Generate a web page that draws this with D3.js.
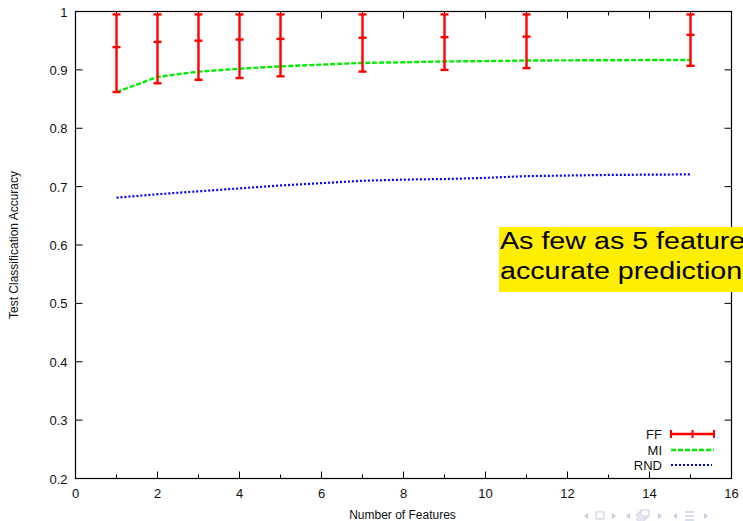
<!DOCTYPE html>
<html><head><meta charset="utf-8">
<script src="https://cdn.jsdelivr.net/npm/d3@7"></script>
<style>body{margin:0;background:#fff;overflow:hidden}svg{display:block}</style>
</head><body>
<script>
const ffX = [1, 2, 3, 4, 5, 7, 9, 11, 15];
const ffMean = [0.939, 0.948, 0.950, 0.952, 0.953, 0.955, 0.956, 0.957, 0.960];
const ffLow = [0.862, 0.877, 0.883, 0.886, 0.889, 0.897, 0.900, 0.903, 0.907];
const ffHigh = [0.995, 0.995, 0.995, 0.995, 0.995, 0.995, 0.995, 0.995, 0.995];
const miX = [1, 2, 3, 4, 5, 6, 7, 8, 9, 10, 11, 12, 13, 14, 15];
const miY = [0.862, 0.888, 0.897, 0.902, 0.906, 0.909, 0.912, 0.913, 0.9145, 0.915, 0.916, 0.9163, 0.9165, 0.9168, 0.917];
const rndX = [1, 2, 3, 4, 5, 6, 7, 8, 9, 10, 11, 12, 13, 14, 15];
const rndY = [0.681, 0.687, 0.692, 0.697, 0.702, 0.706, 0.710, 0.712, 0.713, 0.715, 0.718, 0.719, 0.720, 0.7205, 0.721];
const xTicks = [0, 2, 4, 6, 8, 10, 12, 14, 16];
const xMinor = [1, 3, 5, 7, 9, 11, 13, 15];
const yTicks = [0.2, 0.3, 0.4, 0.5, 0.6, 0.7, 0.8, 0.9, 1];
const legendLabels = ["FF", "MI", "RND"];
const noteLines = ["As few as 5 feature", "accurate prediction"];

const W = 743, H = 521;
const L = 75.5, R = 731.5, T = 11.5, B = 478.5;
const svg = d3.select("body").append("svg").attr("width", W).attr("height", H);
const x = d3.scaleLinear().domain([0, 16]).range([L, R]);
const y = d3.scaleLinear().domain([0.2, 1]).range([B, T]);
const font = "'Liberation Sans', Arial, Helvetica, sans-serif";

// ticks on all sides
const tk = svg.append("g").attr("stroke", "#000").attr("stroke-width", 1);
xTicks.forEach(v => {
  tk.append("line").attr("x1", x(v)).attr("x2", x(v)).attr("y1", B).attr("y2", B - 7);
  tk.append("line").attr("x1", x(v)).attr("x2", x(v)).attr("y1", T).attr("y2", T + 7);
});
xMinor.forEach(v => {
  tk.append("line").attr("x1", x(v)).attr("x2", x(v)).attr("y1", B).attr("y2", B - 4);
  tk.append("line").attr("x1", x(v)).attr("x2", x(v)).attr("y1", T).attr("y2", T + 4);
});
yTicks.forEach(v => {
  tk.append("line").attr("x1", L).attr("x2", L + 7).attr("y1", y(v)).attr("y2", y(v));
  tk.append("line").attr("x1", R).attr("x2", R - 7).attr("y1", y(v)).attr("y2", y(v));
});
svg.append("rect").attr("x", L).attr("y", T).attr("width", R - L).attr("height", B - T)
  .attr("fill", "none").attr("stroke", "#000").attr("stroke-width", 1.2);

// tick labels
svg.append("g").selectAll("text").data(xTicks).join("text")
  .attr("x", d => x(d)).attr("y", B + 19).attr("text-anchor", "middle")
  .attr("font-family", font).attr("font-size", 13).attr("fill", "#111").text(d => d);
svg.append("g").selectAll("text").data(yTicks).join("text")
  .attr("x", L - 8).attr("y", d => y(d) + 5).attr("text-anchor", "end")
  .attr("font-family", font).attr("font-size", 13).attr("fill", "#111").text(d => d);

svg.append("text").attr("x", (L + R) / 2 - 1).attr("y", 519).attr("text-anchor", "middle")
  .attr("font-family", font).attr("font-size", 12).attr("fill", "#111").text("Number of Features");
svg.append("text").attr("transform", `translate(18,${(T + B) / 2}) rotate(-90)`).attr("text-anchor", "middle")
  .attr("font-family", font).attr("font-size", 12).attr("fill", "#111").text("Test Classification Accuracy");

// lines
const line = d3.line().x(d => x(d[0])).y(d => y(d[1]));
svg.append("path").datum(rndX.map((v, i) => [v, rndY[i]])).attr("d", line)
  .attr("fill", "none").attr("stroke", "#0000ff").attr("stroke-width", 2.2).attr("stroke-dasharray", "2,2");
svg.append("path").datum(miX.map((v, i) => [v, miY[i]])).attr("d", line)
  .attr("fill", "none").attr("stroke", "#00ee00").attr("stroke-width", 2.4).attr("stroke-dasharray", "5,2");

// error bars
const eb = svg.append("g").attr("stroke", "#ff0000").attr("stroke-width", 2.4);
ffX.forEach((v, i) => {
  const cx = x(v);
  eb.append("line").attr("x1", cx).attr("x2", cx).attr("y1", y(ffLow[i])).attr("y2", y(ffHigh[i]));
  [ffLow[i], ffHigh[i], ffMean[i]].forEach(val => {
    eb.append("line").attr("x1", cx - 4).attr("x2", cx + 4).attr("y1", y(val)).attr("y2", y(val));
  });
});

// legend
const lg = svg.append("g");
const ly = [434, 450, 465];
legendLabels.forEach((t, i) => {
  lg.append("text").attr("x", 662).attr("y", ly[i] + 4.5).attr("text-anchor", "end")
    .attr("font-family", font).attr("font-size", 13).attr("fill", "#111").text(t);
});
lg.append("line").attr("x1", 671).attr("x2", 714).attr("y1", ly[0]).attr("y2", ly[0]).attr("stroke", "#ff0000").attr("stroke-width", 2.4);
[671, 692.5, 714].forEach(px => lg.append("line").attr("x1", px).attr("x2", px).attr("y1", ly[0] - 4).attr("y2", ly[0] + 4).attr("stroke", "#ff0000").attr("stroke-width", 2));
lg.append("line").attr("x1", 671).attr("x2", 714).attr("y1", ly[1]).attr("y2", ly[1]).attr("stroke", "#00ee00").attr("stroke-width", 2.4).attr("stroke-dasharray", "5,2");
lg.append("line").attr("x1", 671).attr("x2", 712).attr("y1", ly[2]).attr("y2", ly[2]).attr("stroke", "#0000ff").attr("stroke-width", 2.2).attr("stroke-dasharray", "2,2");

// annotation box
svg.append("rect").attr("x", 499).attr("y", 227).attr("width", 260).attr("height", 65).attr("fill", "#ffee00");
noteLines.forEach((t, i) => {
  svg.append("text").attr("transform", `translate(500,${249 + i * 30}) scale(1.17,1)`)
    .attr("font-family", font).attr("font-size", 24.5).attr("fill", "#000").text(t);
});

// beamer navigation symbols
const nav = svg.append("g").attr("fill", "#c5cbe0").attr("stroke", "#c5cbe0");
const ny = 516;
function tri(cx, dir) {
  nav.append("path").attr("d", dir < 0 ? `M${cx + 2},${ny - 3}L${cx - 2},${ny}L${cx + 2},${ny + 3}Z` : `M${cx - 2},${ny - 3}L${cx + 2},${ny}L${cx - 2},${ny + 3}Z`).attr("stroke", "none");
}
tri(586, -1);
nav.append("rect").attr("x", 596).attr("y", ny - 4).attr("width", 8).attr("height", 7).attr("fill", "none").attr("stroke-width", 1);
tri(614, 1);
tri(628, -1);
nav.append("rect").attr("x", 637).attr("y", ny - 2).attr("width", 8).attr("height", 6).attr("fill", "#fff").attr("stroke-width", 1);
nav.append("rect").attr("x", 639).attr("y", ny - 4).attr("width", 8).attr("height", 6).attr("fill", "#fff").attr("stroke-width", 1);
nav.append("rect").attr("x", 641).attr("y", ny - 6).attr("width", 8).attr("height", 6).attr("fill", "#fff").attr("stroke-width", 1);
tri(660, 1);
tri(675, -1);
[ -4, 0, 4 ].forEach(d => nav.append("line").attr("x1", 685).attr("x2", 694).attr("y1", ny + d).attr("y2", ny + d).attr("stroke-width", 1.3));
tri(706, 1);
</script>
</body></html>
